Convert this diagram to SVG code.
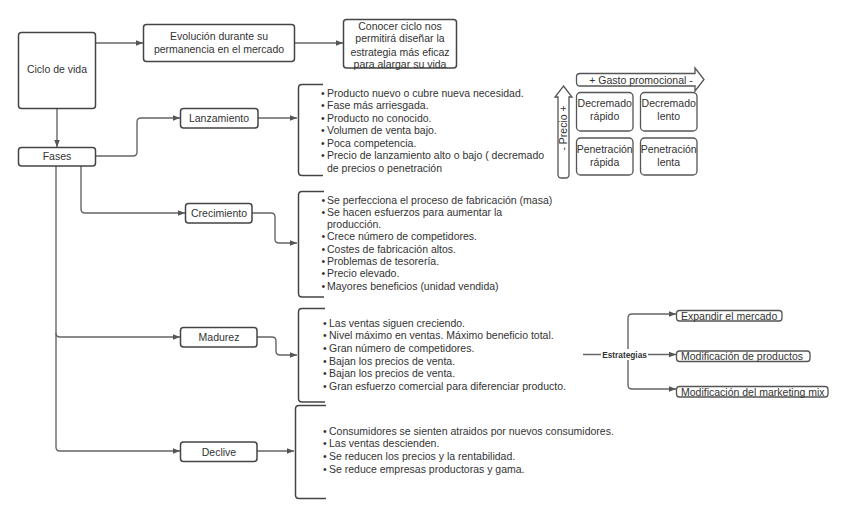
<svg xmlns="http://www.w3.org/2000/svg" width="848" height="517" viewBox="0 0 848 517">
<style>
  text { font-family: "Liberation Sans", Arial, sans-serif; font-size: 10.5px; fill: #333; }
  .c { text-anchor: middle; }
  .box { fill: #fff; stroke: #444; stroke-width: 1.5; }
  .q { fill: #fff; stroke: #555; stroke-width: 1.3; }
  .ln { fill: none; stroke: #666; stroke-width: 1.4; }
  .arr { fill: none; stroke: #666; stroke-width: 1.4; marker-end: url(#ah); }
  .br { fill: none; stroke: #444; stroke-width: 1.5; }
  .lbl { font-size: 8.3px; font-weight: bold; }
</style>
<defs>
  <marker id="ah" viewBox="0 0 10 10" refX="10" refY="5" markerWidth="7" markerHeight="7" markerUnits="userSpaceOnUse" orient="auto">
    <path d="M0 1 L10 5 L0 9 Z" fill="#555"/>
  </marker>
</defs>
<rect width="848" height="517" fill="#fff"/>

<g id="connectors">
  <path class="arr" d="M96 43 H143"/>
  <path class="arr" d="M295 43 H343"/>
  <path class="arr" d="M57 108 V147"/>
  <path class="arr" d="M95 156 H133 Q137 156 137 152 V122 Q137 118 141 118 H180"/>
  <path class="arr" d="M81 166 V209 Q81 213 85 213 H185"/>
  <path class="arr" d="M56 166 V447 Q56 451 60 451 H180"/>
  <path class="arr" d="M56 333 Q56 337 60 337 H180"/>
  <path class="arr" d="M258 118 H297"/>
  <path class="arr" d="M252 213 H271 Q275 213 275 217 V239 Q275 243 279 243 H297"/>
  <path class="arr" d="M257 337 H272 Q276 337 276 341 V351 Q276 355 280 355 H297"/>
  <path class="arr" d="M257 451 H294"/>
  <path class="ln" d="M583 354.5 H628"/>
  <path class="arr" d="M628 354.5 H676"/>
  <path class="arr" d="M628 354.5 V318 Q628 314 632 314 H676"/>
  <path class="arr" d="M628 354.5 V385 Q628 389 632 389 H676"/>
  <rect x="601" y="349" width="47" height="11" fill="#fff"/>
  <text class="lbl c" x="624.5" y="357.5">Estrategias</text>
</g>

<g id="ciclo">
  <rect class="box" x="18.5" y="32.5" width="77" height="76" rx="3"/>
  <text class="c" x="57" y="73">Ciclo de vida</text>
</g>
<g id="evolucion">
  <rect class="box" x="143.5" y="24.5" width="151" height="37" rx="3"/>
  <text class="c" x="219" y="40">Evolución durante su</text>
  <text class="c" x="219" y="53">permanencia en el mercado</text>
</g>
<g id="conocer">
  <rect class="box" x="343.5" y="19.5" width="113" height="48.5" rx="3"/>
  <text class="c" x="400" y="29.5">Conocer ciclo nos</text>
  <text class="c" x="400" y="42.3">permitirá diseñar la</text>
  <text class="c" x="400" y="55.5">estrategia más eficaz</text>
  <text class="c" x="400" y="68">para alargar su vida</text>
</g>
<g id="fases">
  <rect class="box" x="18.5" y="147.5" width="77" height="18.5" rx="3"/>
  <text class="c" x="57" y="160">Fases</text>
</g>
<g id="lanzamiento">
  <rect class="box" x="180.5" y="108.5" width="77.5" height="19.5" rx="3"/>
  <text class="c" x="219" y="122">Lanzamiento</text>
</g>
<g id="crecimiento">
  <rect class="box" x="185.5" y="203.5" width="66.5" height="19.5" rx="3"/>
  <text class="c" x="219" y="217">Crecimiento</text>
</g>
<g id="madurez">
  <rect class="box" x="180.5" y="327.5" width="76.5" height="19.5" rx="3"/>
  <text class="c" x="219" y="341">Madurez</text>
</g>
<g id="declive">
  <rect class="box" x="180.5" y="442" width="76.5" height="19.5" rx="3"/>
  <text class="c" x="219" y="455.5">Declive</text>
</g>

<g id="lanzamiento-detalle">
  <path class="br" d="M323 84.5 H302 Q298.5 84.5 298.5 88 V172 Q298.5 175.5 302 175.5 H323"/>
  <text x="321" y="96.5">•</text><text x="327" y="96.5">Producto nuevo o cubre nueva necesidad.</text>
  <text x="321" y="109">•</text><text x="327" y="109">Fase más arriesgada.</text>
  <text x="321" y="121.5">•</text><text x="327" y="121.5">Producto no conocido.</text>
  <text x="321" y="134">•</text><text x="327" y="134">Volumen de venta bajo.</text>
  <text x="321" y="146.5">•</text><text x="327" y="146.5">Poca competencia.</text>
  <text x="321" y="159">•</text><text x="327" y="159">Precio de lanzamiento alto o bajo ( decremado</text>
  <text x="327" y="171.5">de precios o penetración</text>
</g>

<g id="crecimiento-detalle">
  <path class="br" d="M324 191.5 H302 Q298.5 191.5 298.5 195 V293.5 Q298.5 297 302 297 H324"/>
  <text x="321.5" y="203.5">•</text><text x="327" y="203.5">Se perfecciona el proceso de fabricación (masa)</text>
  <text x="321.5" y="215.8">•</text><text x="327" y="215.8">Se hacen esfuerzos para aumentar la</text>
  <text x="327" y="228.1">producción.</text>
  <text x="321.5" y="240.4">•</text><text x="327" y="240.4">Crece número de competidores.</text>
  <text x="321.5" y="252.7">•</text><text x="327" y="252.7">Costes de fabricación altos.</text>
  <text x="321.5" y="265">•</text><text x="327" y="265">Problemas de tesorería.</text>
  <text x="321.5" y="277.3">•</text><text x="327" y="277.3">Precio elevado.</text>
  <text x="321.5" y="289.6">•</text><text x="327" y="289.6">Mayores beneficios (unidad vendida)</text>
</g>

<g id="madurez-detalle">
  <path class="br" d="M325 308.5 H302 Q298.5 308.5 298.5 312 V398.5 Q298.5 402 302 402 H325"/>
  <text x="323" y="326.8">•</text><text x="329" y="326.8">Las ventas siguen creciendo.</text>
  <text x="323" y="339.4">•</text><text x="329" y="339.4">Nivel máximo en ventas. Máximo beneficio total.</text>
  <text x="323" y="352">•</text><text x="329" y="352">Gran número de competidores.</text>
  <text x="323" y="364.6">•</text><text x="329" y="364.6">Bajan los precios de venta.</text>
  <text x="323" y="377.2">•</text><text x="329" y="377.2">Bajan los precios de venta.</text>
  <text x="323" y="389.8">•</text><text x="329" y="389.8">Gran esfuerzo comercial para diferenciar producto.</text>
</g>

<g id="declive-detalle">
  <path class="br" d="M326 405.5 H299 Q295.5 405.5 295.5 409 V495 Q295.5 498.5 299 498.5 H326"/>
  <text x="323" y="434.8">•</text><text x="329" y="434.8">Consumidores se sienten atraidos por nuevos consumidores.</text>
  <text x="323" y="447.4">•</text><text x="329" y="447.4">Las ventas descienden.</text>
  <text x="323" y="460">•</text><text x="329" y="460">Se reducen los precios y la rentabilidad.</text>
  <text x="323" y="472.6">•</text><text x="329" y="472.6">Se reduce empresas productoras y gama.</text>
</g>

<g id="gasto-promocional">
  <path class="q" d="M580 73.5 H695 V68 L704 79.5 L695 91 V86 H580 Q576.5 86 576.5 82.5 V77 Q576.5 73.5 580 73.5 Z"/>
  <text class="c" x="641" y="83.5">+ Gasto promocional -</text>
</g>
<g id="precio">
  <path class="q" d="M563.5 86 L572 97 H569 V174.5 Q569 178 565.5 178 H561.5 Q558 178 558 174.5 V97 H555 Z"/>
  <text class="c" transform="translate(567.3 128) rotate(-90)">- Precio +</text>
</g>
<g id="decremado-rapido">
  <rect class="q" x="576.5" y="92.5" width="56.5" height="38.5" rx="4"/>
  <text class="c" x="604.7" y="107">Decremado</text>
  <text class="c" x="604.7" y="120">rápido</text>
</g>
<g id="decremado-lento">
  <rect class="q" x="640.5" y="92.5" width="56.5" height="38.5" rx="4"/>
  <text class="c" x="668.7" y="107">Decremado</text>
  <text class="c" x="668.7" y="120">lento</text>
</g>
<g id="penetracion-rapida">
  <rect class="q" x="576.5" y="138" width="56.5" height="37" rx="4"/>
  <text class="c" x="604.7" y="152.5">Penetración</text>
  <text class="c" x="604.7" y="165.5">rápida</text>
</g>
<g id="penetracion-lenta">
  <rect class="q" x="640.5" y="138" width="56.5" height="37" rx="4"/>
  <text class="c" x="668.7" y="152.5">Penetración</text>
  <text class="c" x="668.7" y="165.5">lenta</text>
</g>

<g id="expandir">
  <rect class="q" x="676.5" y="310.5" width="105.5" height="10.5" rx="3"/>
  <text x="681" y="320">Expandir el mercado</text>
</g>
<g id="mod-productos">
  <rect class="q" x="676.5" y="351" width="133.5" height="10.5" rx="3"/>
  <text x="681" y="360">Modificación de productos</text>
</g>
<g id="mod-marketing">
  <rect class="q" x="676.5" y="386.5" width="151.5" height="10.5" rx="3"/>
  <text x="681" y="396">Modificación del marketing mix</text>
</g>
</svg>
